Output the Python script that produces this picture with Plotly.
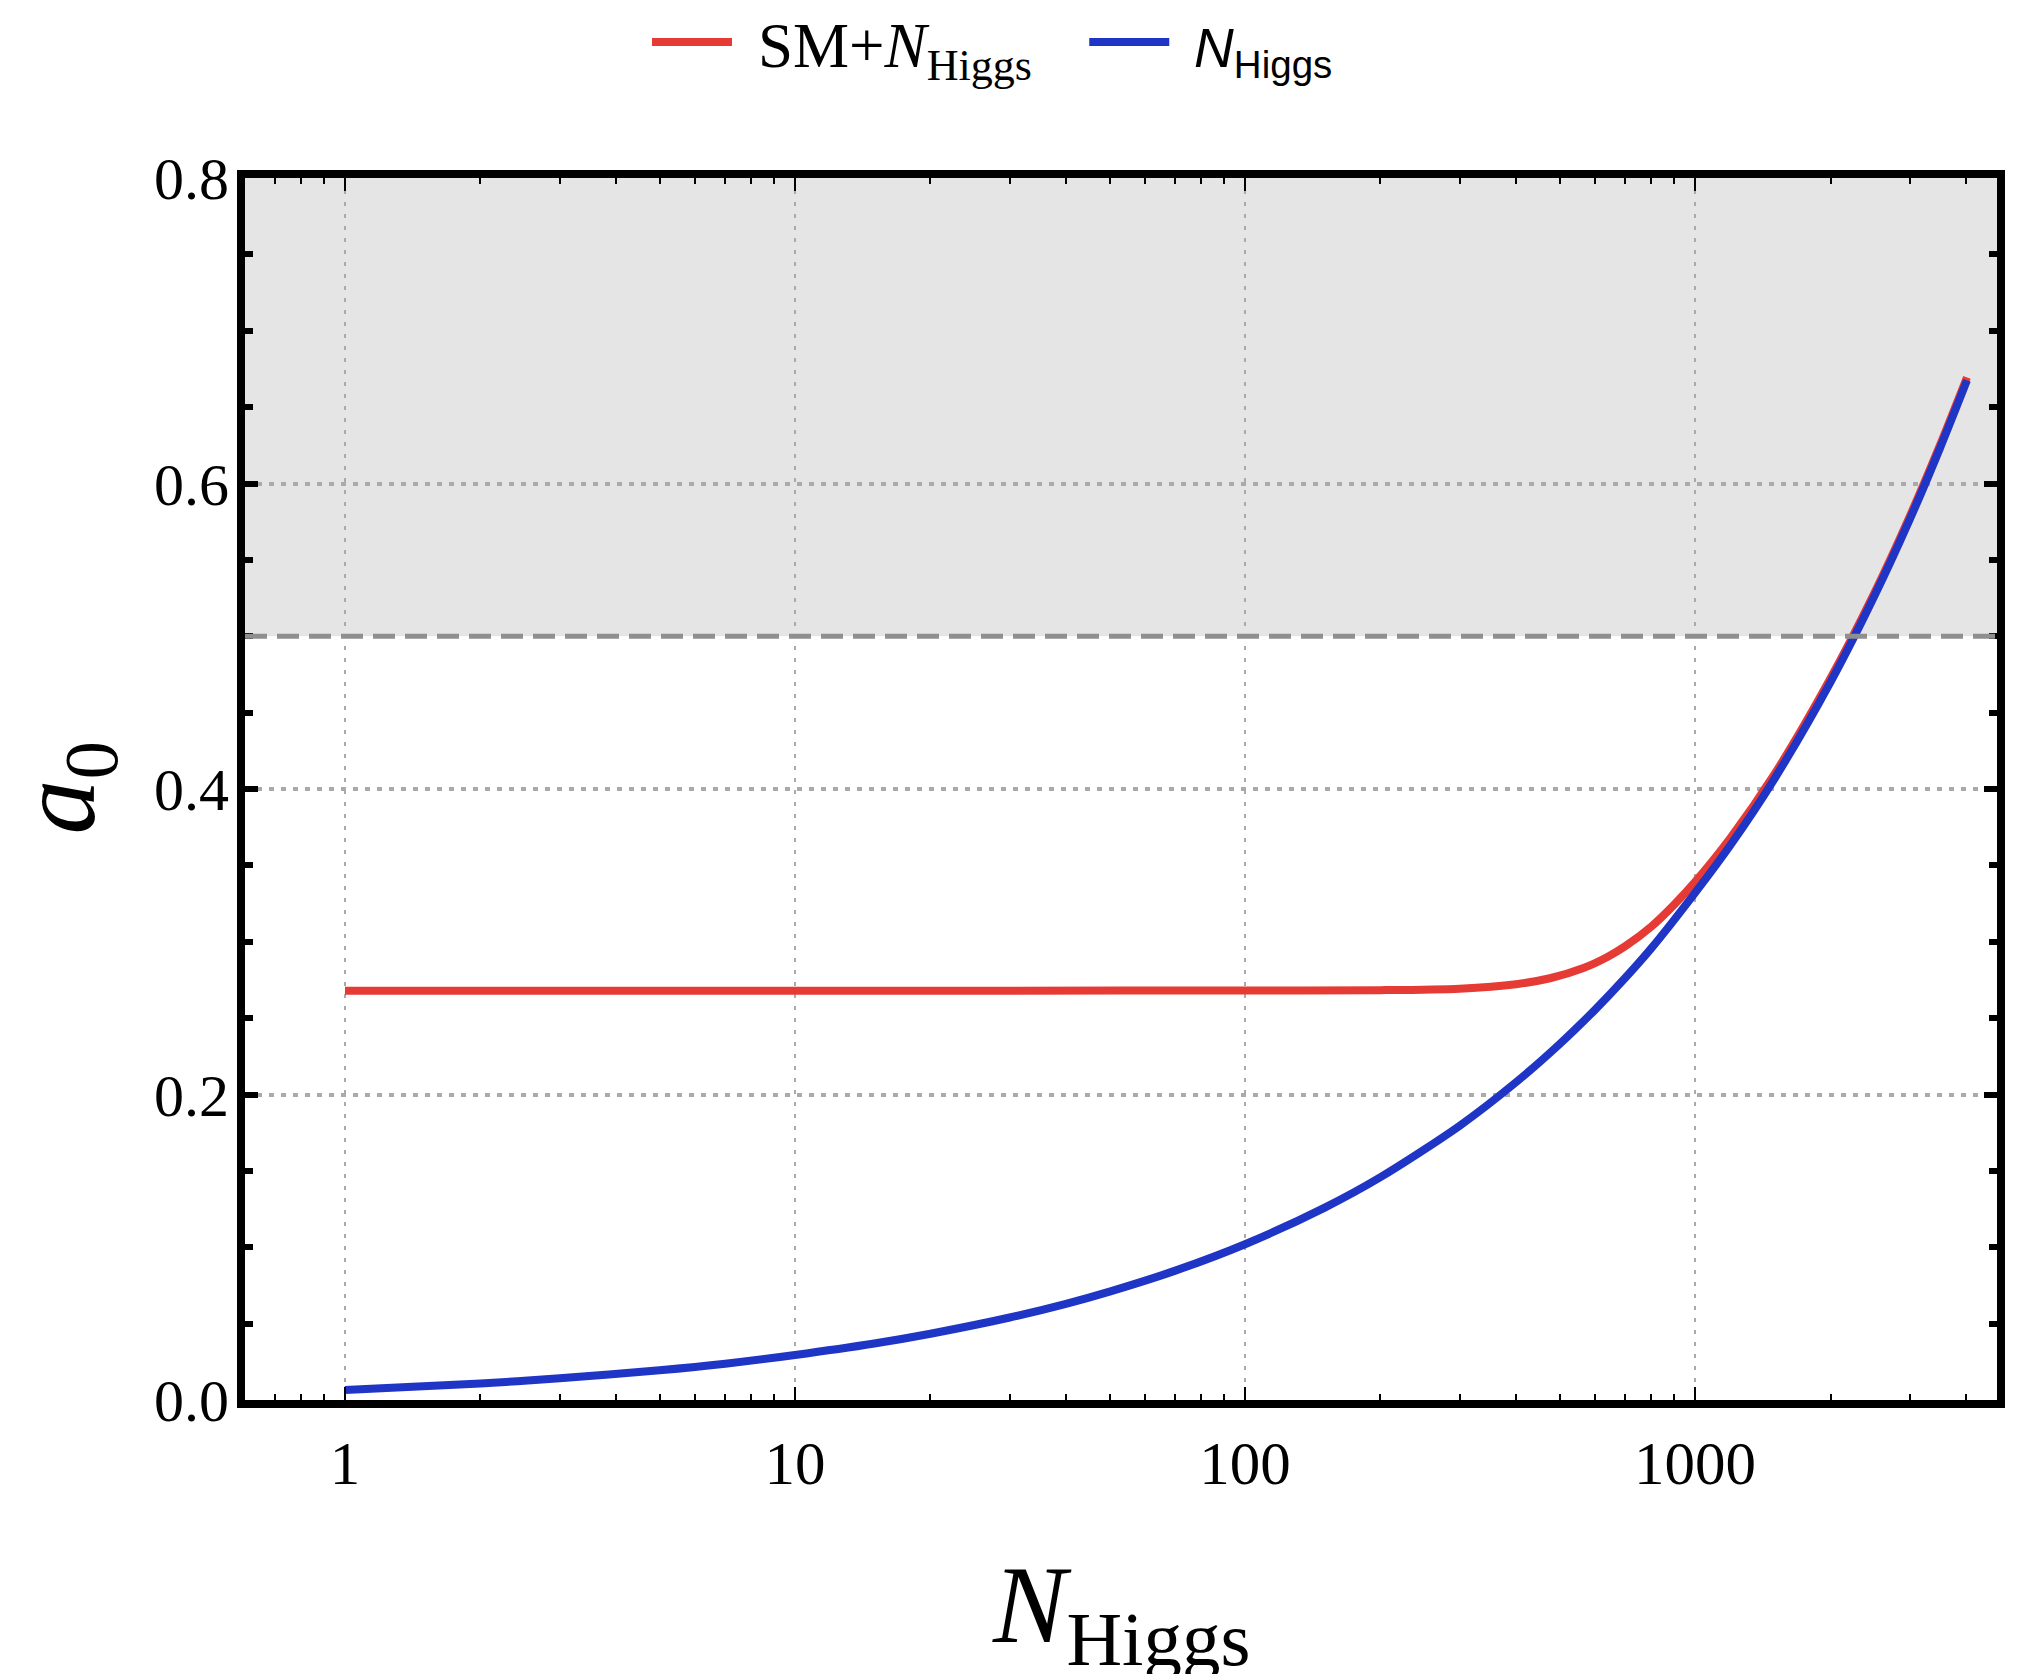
import plotly.graph_objects as go

# ---- data ----
n_sm_plus = [1, 3, 10, 30, 100, 200, 300, 400, 476, 565, 640, 700, 800, 900, 1000, 1200, 1500, 2000,
             2500, 3000, 3500, 4020]
a0_sm_plus = [0.268, 0.268, 0.268, 0.268, 0.2681, 0.2683, 0.2693, 0.2722, 0.2761, 0.2828, 0.2902, 0.2971,
              0.3100, 0.3245, 0.3392, 0.3682, 0.4095, 0.4725, 0.5280, 0.5785, 0.6250, 0.6695]

n_higgs = [1, 2, 3, 5, 7, 10, 15, 20, 30, 40, 50, 70, 100, 150, 200, 300, 400, 500, 600, 700, 800,
           1000, 1200, 1500, 2000, 2500, 3000, 3500, 4020]
a0_higgs = [0.0066, 0.0108, 0.0142, 0.0195, 0.0238, 0.0295, 0.0370, 0.0434, 0.0540, 0.0630, 0.0710,
            0.0847, 0.1020, 0.1258, 0.1459, 0.1796, 0.2080, 0.2330, 0.2556, 0.2764, 0.2958, 0.3320,
            0.3635, 0.4065, 0.4700, 0.5260, 0.5765, 0.6230, 0.6675]

x_tickvals = [1, 10, 100, 1000]
x_ticktext = ["1", "10", "100", "1000"]
y_tickvals = [0.0, 0.2, 0.4, 0.6, 0.8]
y_ticktext = ["0.0", "0.2", "0.4", "0.6", "0.8"]

BOUND = 0.5      # unitarity bound (dashed line)
Y_MAX = 0.8

RED = "#e63b35"
BLUE = "#1f35c6"
SERIF = "Liberation Serif"
SANS = "Liberation Sans"
NB = "\u00a0"
HAIR = "\u200a"

x_minor = [k * 10 ** d for d in range(-1, 4) for k in range(2, 10)]
x_minor = [v for v in x_minor if 0.6 <= v <= 4700]

W, H = 2017, 1666   # page body adds an 8px offset in the browser

fig = go.Figure()
fig.add_trace(go.Scatter(
    x=n_sm_plus, y=a0_sm_plus, mode="lines",
    name=NB + HAIR + "SM+<i>N</i><sub>Higgs</sub>" + NB * 3,
    line=dict(color=RED, width=8, shape="spline", smoothing=0.8),
))
fig.add_trace(go.Scatter(
    x=n_higgs, y=a0_higgs, mode="lines",
    name=f'<span style="font-family:{SANS};font-size:55px">{NB}{HAIR}<i>N</i><sub>Higgs</sub></span>',
    line=dict(color=BLUE, width=8, shape="spline", smoothing=0.8),
))

# shaded excluded region and bound
fig.add_shape(type="rect", xref="paper", x0=0, x1=1, yref="y", y0=BOUND, y1=Y_MAX,
              fillcolor="#e5e5e5", line=dict(width=0), layer="below")
fig.add_shape(type="line", xref="paper", x0=0, x1=1, yref="y", y0=BOUND, y1=BOUND,
              line=dict(color="#8f8f8f", width=5, dash="22px,10px"), layer="above")

fig.update_xaxes(
    type="log", range=[-0.2222, 3.671], automargin=False,
    tickvals=x_tickvals, ticktext=x_ticktext,
    ticks="inside", ticklen=13, tickwidth=2, tickcolor="black",
    minor=dict(tickvals=x_minor, ticks="inside", ticklen=6, tickwidth=2, tickcolor="black", showgrid=False),
    showline=True, linecolor="black", linewidth=8, mirror="allticks",
    showgrid=True, gridcolor="#aaaaaa", gridwidth=2, griddash="4px,8px",
    tickfont=dict(family=SERIF, size=61, color="black"),
    ticklabelstandoff=3,
    zeroline=False,
)
fig.update_yaxes(
    range=[0, Y_MAX], tickvals=y_tickvals, ticktext=y_ticktext, automargin=False,
    ticks="inside", ticklen=13, tickwidth=6, tickcolor="black",
    minor=dict(dtick=0.05, ticks="inside", ticklen=8, tickwidth=6, tickcolor="black", showgrid=False),
    showline=True, linecolor="black", linewidth=8, mirror="allticks",
    showgrid=True, gridcolor="#aaaaaa", gridwidth=4, griddash="5px,7px",
    tickfont=dict(family=SERIF, size=60, color="black"),
    ticklabelstandoff=-4,
    zeroline=False,
)

fig.add_annotation(text="<i>N</i><sub>Higgs</sub>", xref="paper", yref="paper", x=0.5, y=-0.1745,
                   xanchor="center", yanchor="middle", showarrow=False,
                   font=dict(family=SERIF, size=110, color="black"))
fig.add_annotation(text="<i>a</i><sub>0</sub>", xref="paper", yref="paper", x=-0.1025, y=0.5016,
                   xanchor="center", yanchor="middle", showarrow=False, textangle=-90,
                   font=dict(family=SERIF, size=110, color="black"))

fig.update_layout(
    template="none",
    width=W, height=H,
    margin=dict(l=237, r=28, t=170, b=274, autoexpand=False),
    paper_bgcolor="white", plot_bgcolor="white",
    showlegend=True,
    legend=dict(orientation="h", xref="container", yref="container",
                x=0.4881, xanchor="center", y=1 - 34 / H, yanchor="middle",
                font=dict(family=SERIF, size=63, color="black"), itemwidth=80,
                bgcolor="rgba(0,0,0,0)", borderwidth=0),
)

fig.write_html("out.html")
